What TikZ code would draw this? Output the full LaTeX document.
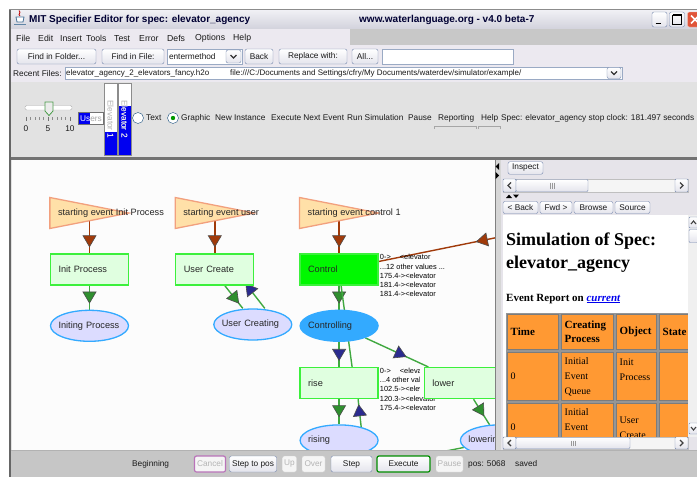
\documentclass[tikz,border=0pt]{standalone}
\usepackage{fontspec}
\setmainfont{Liberation Sans}
\newfontfamily\htmlfont{Liberation Serif}
\usetikzlibrary{positioning,arrows.meta,decorations.markings,shapes.geometric}
\pgfdeclarelayer{back}
\pgfdeclarelayer{wires}
\pgfsetlayers{back,wires,main}

\definecolor{evfill}{HTML}{FFE0A8}
\definecolor{evline}{HTML}{F2A07E}
\definecolor{procfill}{HTML}{E0FFE0}
\definecolor{procline}{HTML}{3CF03C}
\definecolor{ctlfill}{HTML}{00F800}
\definecolor{statefill}{HTML}{DCDCFF}
\definecolor{stateline}{HTML}{33AAFF}
\definecolor{rust}{HTML}{A03A0A}
\definecolor{leaf}{HTML}{40A840}
\definecolor{leafhead}{HTML}{2F8F2F}
\definecolor{navyhead}{HTML}{2B2B8F}
\definecolor{canvasbg}{HTML}{FCFCFC}
\definecolor{uibg}{HTML}{E2E2E2}
\definecolor{barbg}{HTML}{ECE9F0}
\definecolor{menugray}{HTML}{C8C8C8}
\definecolor{titletop}{HTML}{F2F2F6}
\definecolor{titlebot}{HTML}{D2D2DC}
\definecolor{btnline}{HTML}{7688AE}
\definecolor{btnshade}{HTML}{E4E4EC}
\definecolor{fieldline}{HTML}{9AAAC4}
\definecolor{elevblue}{HTML}{0000F0}
\definecolor{bottombg}{HTML}{C6C6C6}
\definecolor{panelbg}{HTML}{E6E4EA}
\definecolor{cellorange}{HTML}{FF9933}
\definecolor{cellline}{HTML}{7C7C7C}
\definecolor{linkblue}{HTML}{0000EE}
\definecolor{offtext}{HTML}{B4B4B4}
\definecolor{xpblue}{HTML}{1C5180}
\definecolor{closered}{HTML}{E0553A}

\newcommand\uisize{\fontsize{8.3pt}{10pt}\selectfont}
\newcommand\dgsize{\fontsize{9.2pt}{11pt}\selectfont}
\newcommand\notesize{\fontsize{7.4pt}{9.2pt}\selectfont}

\begin{document}
\begin{tikzpicture}[x=1pt,y=-1pt]
  \useasboundingbox (0,0) rectangle (697,477);
  \tikzstyle{evt} = [fill=evfill,draw=evline,line width=1.3pt]
  \tikzstyle{evtext} = [font=\dgsize,inner sep=0pt,anchor=west,text=black!85]
  \tikzstyle{proc} = [rectangle,minimum width=78pt,minimum height=31pt,
  text width=62pt,align=left,inner xsep=8pt,inner ysep=0pt,font=\dgsize,
  fill=procfill,draw=procline,line width=1.3pt,text=black!85]
  \tikzstyle{ctlproc} = [proc,fill=ctlfill]
  \tikzstyle{state} = [ellipse,minimum width=78pt,minimum height=31pt,
  text width=62pt,align=left,inner xsep=-10pt,inner ysep=0pt,font=\dgsize,
  fill=statefill,draw=stateline,line width=1.3pt,text=black!85]
  \tikzstyle{ctlstate} = [state,fill=stateline]
  \tikzstyle{note} = [font=\notesize,align=left,inner sep=0pt,anchor=north west]
  \tikzstyle{rustline} = [draw=rust,line width=1.4pt]
  \tikzstyle{leafline} = [draw=leaf,line width=1.4pt]
  \tikzset{tiphead/.style 2 args={postaction={decorate,decoration={markings,
          mark=at position #2 with {\arrow{Triangle[width=14pt,length=12pt,
              fill=#1,color=black!70,line width=0.6pt]}}}}}}

  \tikzstyle{ui} = [font=\uisize,inner sep=0pt,anchor=west,text=black!90]
  \tikzstyle{btn} = [rectangle,rounded corners=2pt,draw=btnline,top color=white,
  bottom color=btnshade,font=\uisize,inner sep=0pt,minimum height=15pt,text=black!90]
  \tikzstyle{btnoff} = [btn,draw=black!18,top color=white!96!black,
  bottom color=white!96!black,text=offtext]
  \tikzstyle{field} = [rectangle,draw=fieldline,fill=white,inner sep=0pt]
  \tikzstyle{cell} = [rectangle,fill=cellorange,draw=cellline,line width=1pt,
  align=left,inner xsep=3pt,inner ysep=0pt,
  font=\htmlfont\fontsize{10pt}{15pt}\selectfont]
  \tikzstyle{hcell} = [cell,font=\htmlfont\bfseries\fontsize{11pt}{14pt}\selectfont]

  \begin{pgfonlayer}{back}
    \fill[white] (0,0) rectangle (697,477);
    \fill[uibg] (9,9) rectangle (697,477);
    \shade[top color=titletop,bottom color=titlebot] (9,9) rectangle (697,29);
    \fill[barbg] (9,29) rectangle (697,82);
    \fill[menugray] (350,29) rectangle (697,45);
    \fill[black!55] (9,157) rectangle (697,160);
    \fill[canvasbg] (12,160) rectangle (495,450);
    \fill[black!60] (9,9) rectangle (11,477);
    \draw[black!45] (9,9.5) -- (697,9.5);
  \end{pgfonlayer}

  % title bar
  \draw[xpblue!70,line width=1pt] (14,24) -- (26,24);
  \filldraw[fill=white,draw=xpblue!80,line width=0.8pt] (16,17) -- (24,17) -- (23,22) -- (17,22) -- cycle;
  \draw[red!75!black,line width=0.8pt] (20,16) .. controls (17,14) and (22,13) .. (19,10.5);
  \node[font=\bfseries\fontsize{10pt}{12pt}\selectfont,anchor=west,inner sep=0pt,
  text=black!80!blue] (title) at (29,19.5) {MIT Specifier Editor for spec: elevator\_agency};
  \node[font=\bfseries\fontsize{10pt}{12pt}\selectfont,anchor=west,inner sep=0pt,
  text=black!80!blue] (site) at (359,19.5) {www.waterlanguage.org - v4.0 beta-7};
  \node[btn,minimum width=15pt,minimum height=15pt] (minbtn) at (659.5,19.5) {};
  \draw[black,line width=1.6pt] ([shift={(-4,4)}]minbtn.center) -- ++(5,0);
  \node[btn,minimum width=15pt,minimum height=15pt] (maxbtn) at (677,19.5) {};
  \draw[black,line width=0.9pt] ([shift={(-4.5,-4.5)}]maxbtn.center) rectangle ++(9,9);
  \draw[black,line width=1.6pt] ([shift={(-4.5,-4.5)}]maxbtn.center) -- ++(9,0);
  \node[rectangle,rounded corners=2pt,draw=white!60!closered,fill=closered,
  minimum width=15pt,minimum height=15pt] (closebtn) at (695,19.5) {};
  \draw[white,line width=1.5pt] ([shift={(-4,-4)}]closebtn.center) -- ++(8,8)
  ([shift={(4,-4)}]closebtn.center) -- ++(-8,8);

  % menu and tool rows
  \foreach \x/\m in {16/File,38/Edit,60/Insert,86/Tools,114/Test,139/Error,167/Defs,195/Options,233/Help}
  \node[ui,font=\fontsize{8.7pt}{10pt}\selectfont] (menu\m) at (\x,38.5) {\m};

  \node[btn,minimum width=79pt] (findfolder) at (56.5,56.5) {Find in Folder...};
  \node[btn,minimum width=62pt] (findfile) at (133,56.5) {Find in File:};
  \node[field,minimum width=75pt,minimum height=15pt] (entry) at (204.5,56.5) {};
  \node[ui] (entrytext) at ([xshift=2pt]entry.west) {entermethod};
  \node[btn,minimum width=15pt,minimum height=13pt] (entrydrop) at (233.5,56.5) {};
  \draw[black!80,line width=1.2pt] ([shift={(-3,-1.5)}]entrydrop.center) -- ++(3,3) -- ++(3,-3);
  \node[btn,minimum width=28pt] (backbtn) at (259,56.5) {Back};
  \node[btn,minimum width=68pt] (replace) at (313,56.5) {Replace with:};
  \node[btn,minimum width=26pt] (allbtn) at (365,56.5) {All...};
  \node[field,minimum width=131pt,minimum height=15pt] (replacefield) at (447.5,56.5) {};

  \node[ui] (recentlabel) at (13,73.5) {Recent Files:};
  \node[field,minimum width=557pt,minimum height=12pt] (recent) at (343.5,73) {};
  \node[ui,font=\fontsize{8pt}{10pt}\selectfont] (recentfile) at (66,73.5)
  {elevator\_agency\_2\_elevators\_fancy.h2o};
  \node[ui,font=\fontsize{8pt}{10pt}\selectfont] (recentpath) at (230,73.5)
  {file:///C:/Documents and Settings/cfry/My Documents/waterdev/simulator/example/};
  \node[btn,minimum width=14pt,minimum height=11pt] (recentdrop) at (614,73) {};
  \draw[black!80,line width=1.2pt] ([shift={(-3,-1.5)}]recentdrop.center) -- ++(3,3) -- ++(3,-3);

  % controls
  \draw[fill=white,draw=black!30,rounded corners=1.5pt] (25,105.5) rectangle (72,110);
  \foreach \i in {0,...,10}
  \draw[black!45] ({26+4.4*\i},117) -- ({26+4.4*\i},119.5);
  \foreach \i in {0,5,10}
  \draw[black!55] ({26+4.4*\i},116.5) -- ({26+4.4*\i},121);
  \filldraw[fill=black!8,draw=green!45!black!70,line width=0.8pt]
  (45,102) -- (53,102) -- (53,111) -- (49,115.5) -- (45,111) -- cycle;
  \node[ui,anchor=center] (tick0) at (26,129) {0};
  \node[ui,anchor=center] (tick5) at (48,129) {5};
  \node[ui,anchor=center] (tick10) at (70,129) {10};

  \node[draw=black!55,fill=white,minimum width=25pt,minimum height=12pt,inner sep=0pt] (usersbox) at (90.5,118.5) {};
  \fill[elevblue] (79,113) rectangle (89.5,124);
  \node[ui] (users) at (80,118.5) {\textcolor{white}{Us}\textcolor{black!35}{ers}};

  \node[draw=black!45,fill=white,minimum width=13pt,minimum height=72pt,inner sep=0pt] (elev1) at (110.5,119) {};
  \node[draw=black!45,fill=white,minimum width=13pt,minimum height=72pt,inner sep=0pt] (elev2) at (124.5,119) {};
  \fill[elevblue] (104.5,132) rectangle (116.5,154.5);
  \fill[elevblue] (118.5,106) rectangle (130.5,154.5);
  \node[ui,rotate=-90,anchor=center,text=black!30] (elev1name) at (elev1) {Elevator 1};
  \node[ui,rotate=-90,anchor=center,text=black!30] (elev2name) at (elev2) {Elevator 2};
  \begin{scope}
    \clip (104.5,132) rectangle (116.5,154.5) (118.5,106) rectangle (130.5,154.5);
    \node[ui,rotate=-90,anchor=center,text=white] (elev1lit) at (elev1) {Elevator 1};
    \node[ui,rotate=-90,anchor=center,text=white] (elev2lit) at (elev2) {Elevator 2};
  \end{scope}

  \node[circle,draw=xpblue,fill=white,minimum size=11pt,inner sep=0pt] (radiotext) at (138,118) {};
  \node[ui] (textopt) at (146,118) {Text};
  \node[circle,draw=xpblue,fill=white,minimum size=11pt,inner sep=0pt] (radiographic) at (173,118) {};
  \fill[green!60!black] (radiographic) circle (2.2);
  \node[ui] (graphicopt) at (181,118) {Graphic};
  \node[ui] (newinst) at (215,118) {New Instance};
  \node[ui] (execnext) at (271,118) {Execute Next Event};
  \node[ui] (runsim) at (347,118) {Run Simulation};
  \node[ui] (pauseopt) at (408,118) {Pause};
  \node[ui] (reporting) at (438,118) {Reporting};
  \node[ui] (helpopt) at (481,118) {Help};
  \node[ui] (specclock) at (501,118) {Spec: elevator\_agency stop clock: 181.497 seconds};
  \draw[black!35] (434,129) -- (434,126) -- (476,126) -- (476,129);
  \draw[black!35] (478,129) -- (478,126) -- (500,126) -- (500,129);

  % the graph
  \node[proc] (b1) at (89.5,269.5) {Init Process};
  \node[state,below=24pt of b1] (e1) {Initing Process};
  \node[proc,right=46pt of b1] (b2) {User Create};
  \node[state] (e2) at ([xshift=38pt,yshift=-55pt]b2) {User Creating};
  \node[ctlproc,right=45pt of b2] (ctl) {Control};
  \node[note] (ctlnote) at ([xshift=1pt,yshift=-1pt]ctl.north east)
  {0->\hspace{9pt}<elevator\\...12 other values ...\\175.4-><elevator\\181.4-><elevator\\181.4-><elevator};
  \node[ctlstate,below=24pt of ctl] (cing) {Controlling};
  \node[proc,below=25pt of cing] (rise) {rise};
  \begin{scope}
    \clip (370,360) rectangle (419,396) (370,396) rectangle (495,420);
    \node[note] (risenote) at ([xshift=1pt,yshift=-1pt]rise.north east)
    {0->\hspace{9pt}<elevator\\...4 other values ...\\102.5-><elevator\\120.3-><elevator\\175.4-><elevator};
  \end{scope}
  \node[proc,right=45pt of rise] (lower) {lower};
  \node[state,below=25pt of rise] (rising) {rising};
  \node[state,right=81pt of rising] (lowering) {lowering};

  \coordinate (t1) at ([yshift=56.5pt]b1.west);
  \coordinate (t2) at ([yshift=56.5pt]b2.west);
  \coordinate (t3) at ([yshift=56.5pt]ctl.west);
  \filldraw[evt] (t1) -- ++(0,-15.5) -- ++(79,15.5) -- ++(-79,15.5) -- cycle;
  \filldraw[evt] (t2) -- ++(0,-15.5) -- ++(79,15.5) -- ++(-79,15.5) -- cycle;
  \filldraw[evt] (t3) -- ++(0,-15.5) -- ++(79,15.5) -- ++(-79,15.5) -- cycle;
  \node[evtext] (t1text) at ([xshift=8pt]t1) {starting event Init Process};
  \node[evtext] (t2text) at ([xshift=8pt]t2) {starting event user};
  \node[evtext] (t3text) at ([xshift=8pt]t3) {starting event control 1};

  \coordinate (outside) at (560,224.7);
  \coordinate (belowrise) at (366,470);
  \coordinate (belowlower) at (300,480);

  \begin{pgfonlayer}{wires}
    \path (b1.north |- t1) edge[rustline,tiphead={rust}{-6pt}] (b1);
    \path (b1) edge[leafline,tiphead={leafhead}{-6pt}] (e1);
    \path (b2.north |- t2) edge[rustline,tiphead={rust}{-6pt}] (b2);
    \path ([xshift=10pt]b2.south) edge[leafline,tiphead={leafhead}{-6pt}] ([xshift=-10pt]e2.north);
    \path ([xshift=12pt]e2.north) edge[leafline,tiphead={navyhead}{-1pt}] ([xshift=30pt,yshift=3pt]b2.south);
    \path (ctl.north |- t3) edge[rustline,tiphead={rust}{-6pt}] (ctl);
    \path (outside) edge[rustline,tiphead={rust}{-99pt}] (ctl);
    \path (ctl) edge[leafline,tiphead={leafhead}{-6pt}] (cing);
    \path ([xshift=2pt]ctl.south) edge[leafline] ([xshift=13pt]rise.north);
    \path (cing) edge[leafline,tiphead={navyhead}{-6pt}] (rise);
    \path (cing) edge[leafline,tiphead={navyhead}{-24pt}] (lower);
    \path (rise) edge[leafline,tiphead={leafhead}{-7pt}] (rising);
    \path (belowrise) edge[leafline,tiphead={navyhead}{-5pt}] ([xshift=19pt]rise.south);
    \path (lower) edge[leafline,tiphead={leafhead}{-10pt}] (lowering);
    \path (lowering) edge[leafline] (belowlower);
  \end{pgfonlayer}

  % report panel
  \fill[panelbg] (495,160) rectangle (697,450);
  \fill[black!16] (495,160) rectangle (501,450);
  \draw[black!50] (495,160) -- (495,450);
  \fill[black] (499,163) -- (499,170) -- (495.5,166.5) -- cycle;
  \fill[black] (495.5,172) -- (495.5,179) -- (499,175.5) -- cycle;
  \node[btn,minimum width=35pt,minimum height=12.5pt] (inspect) at (525.5,168) {Inspect};

  \node[draw=black!25,fill=black!4,minimum width=185pt,minimum height=13pt,inner sep=0pt] (hscroll) at (595.5,185.5) {};
  \node[btn,rounded corners=1pt,minimum width=13pt,minimum height=13pt] (hleft) at (509.5,185.5) {};
  \draw[black!75,line width=1.2pt] ([shift={(1.5,-3)}]hleft.center) -- ++(-3,3) -- ++(3,3);
  \node[btn,rounded corners=1pt,minimum width=72pt,minimum height=12pt] (hthumb) at (552,185.5) {};
  \foreach \d in {-2,0,2}
  \draw[black!40] ([shift={(\d,-3)}]hthumb.center) -- ++(0,6);
  \node[btn,rounded corners=1pt,minimum width=13pt,minimum height=13pt] (hright) at (681.5,185.5) {};
  \draw[black!75,line width=1.2pt] ([shift={(-1.5,-3)}]hright.center) -- ++(3,3) -- ++(-3,3);
  \fill[black] (506,198) -- (512,198) -- (509,194.5) -- cycle;
  \fill[black] (513,194.5) -- (519,194.5) -- (516,198) -- cycle;

  \node[btn,minimum width=35pt,minimum height=12pt] (navback) at (520.5,207.5) {< Back};
  \node[btn,minimum width=32pt,minimum height=12pt] (navfwd) at (556,207.5) {Fwd >};
  \node[btn,minimum width=39pt,minimum height=12pt] (navbrowse) at (593.5,207.5) {Browse};
  \node[btn,minimum width=35pt,minimum height=12pt] (navsource) at (632.5,207.5) {Source};

  \fill[white] (503,215) rectangle (688,437);
  \begin{scope}
    \clip (503,215) rectangle (688,437);
    \node[anchor=base west,inner sep=0pt,font=\htmlfont\bfseries\fontsize{18pt}{22pt}\selectfont]
    (heading) at (506,245) {Simulation of Spec:};
    \node[anchor=base west,inner sep=0pt,font=\htmlfont\bfseries\fontsize{18pt}{22pt}\selectfont]
    (headspec) at (506,268) {elevator\_agency};
    \node[anchor=base west,inner sep=0pt,font=\htmlfont\bfseries\fontsize{11pt}{13pt}\selectfont]
    (eventreport) at (506,301) {Event Report on \textcolor{linkblue}{\itshape\underline{current}}};
    \node[matrix,anchor=north west,fill=cellline!80,inner sep=1pt,column sep=2pt,row sep=2pt] (report) at (506,313)
    {
      \node[hcell,text width=45pt,minimum height=35pt] (time) {Time}; &
      \node[hcell,text width=46pt,minimum height=35pt] (creating) {Creating\\Process}; &
      \node[hcell,text width=34pt,minimum height=35pt] (object) {Object}; &
      \node[hcell,text width=40pt,minimum height=35pt] (statecol) {State}; \\
      \node[cell,text width=45pt,minimum height=48pt] (time1) {0}; &
      \node[cell,text width=46pt,minimum height=48pt] (creating1) {Initial\\Event\\Queue}; &
      \node[cell,text width=34pt,minimum height=48pt] (object1) {Init\\Process\\\mbox{}}; &
      \node[cell,text width=40pt,minimum height=48pt] (state1) {}; \\
      \node[cell,text width=45pt,minimum height=48pt] (time2) {0}; &
      \node[cell,text width=46pt,minimum height=48pt] (creating2) {Initial\\Event\\Queue}; &
      \node[cell,text width=34pt,minimum height=48pt] (object2) {User\\Create}; &
      \node[cell,text width=40pt,minimum height=48pt] (state2) {}; \\
    };
  \end{scope}

  \fill[black!6] (688,215) rectangle (697,437);
  \node[btn,rounded corners=1pt,minimum width=9pt,minimum height=11pt] (vup) at (693.5,222.5) {};
  \draw[black!75,line width=1.1pt] ([shift={(-2.5,1.5)}]vup.center) -- ++(2.5,-3) -- ++(2.5,3);
  \node[btn,rounded corners=1pt,minimum width=9pt,minimum height=13pt] (vthumb) at (693.5,236) {};
  \node[btn,rounded corners=1pt,minimum width=9pt,minimum height=11pt] (vdown) at (693.5,428.5) {};
  \draw[black!75,line width=1.1pt] ([shift={(-2.5,-1.5)}]vdown.center) -- ++(2.5,3) -- ++(2.5,-3);

  \node[draw=black!25,fill=black!4,minimum width=185pt,minimum height=12pt,inner sep=0pt] (hscrolllow) at (595.5,443) {};
  \node[btn,rounded corners=1pt,minimum width=13pt,minimum height=12pt] (hleftlow) at (509.5,443) {};
  \draw[black!75,line width=1.2pt] ([shift={(1.5,-3)}]hleftlow.center) -- ++(-3,3) -- ++(3,3);
  \node[btn,rounded corners=1pt,minimum width=114pt,minimum height=11pt] (hthumblow) at (573,443) {};
  \foreach \d in {-2,0,2}
  \draw[black!40] ([shift={(\d,-2.5)}]hthumblow.center) -- ++(0,5);
  \node[btn,rounded corners=1pt,minimum width=13pt,minimum height=12pt] (hrightlow) at (681.5,443) {};
  \draw[black!75,line width=1.2pt] ([shift={(-1.5,-3)}]hrightlow.center) -- ++(3,3) -- ++(-3,3);

  % status bar
  \fill[bottombg] (11,450) rectangle (697,477);
  \draw[black!30] (11,450.5) -- (697,450.5);
  \node[ui] (beginning) at (132,464) {Beginning};
  \node[btnoff,draw=violet!55,line width=1.2pt,minimum width=31pt,minimum height=16pt] (cancel) at (210,464) {Cancel};
  \node[btn,minimum width=47pt,minimum height=16pt] (steptopos) at (253,464) {Step to pos};
  \node[btnoff,minimum width=14pt,minimum height=16pt] (upbtn) at (289.5,464) {Up};
  \node[btnoff,minimum width=23pt,minimum height=16pt] (overbtn) at (313.5,464) {Over};
  \node[btn,minimum width=41pt,minimum height=16pt] (stepbtn) at (351.5,464) {Step};
  \node[btn,draw=green!55!black,line width=1.2pt,minimum width=53pt,minimum height=16pt] (execbtn) at (403.5,464) {Execute};
  \node[btnoff,minimum width=27pt,minimum height=16pt] (pausebtn) at (449.5,464) {Pause};
  \node[ui] (pos) at (468,464) {pos: 5068};
  \node[ui] (saved) at (515,464) {saved};
\end{tikzpicture}
\end{document}
